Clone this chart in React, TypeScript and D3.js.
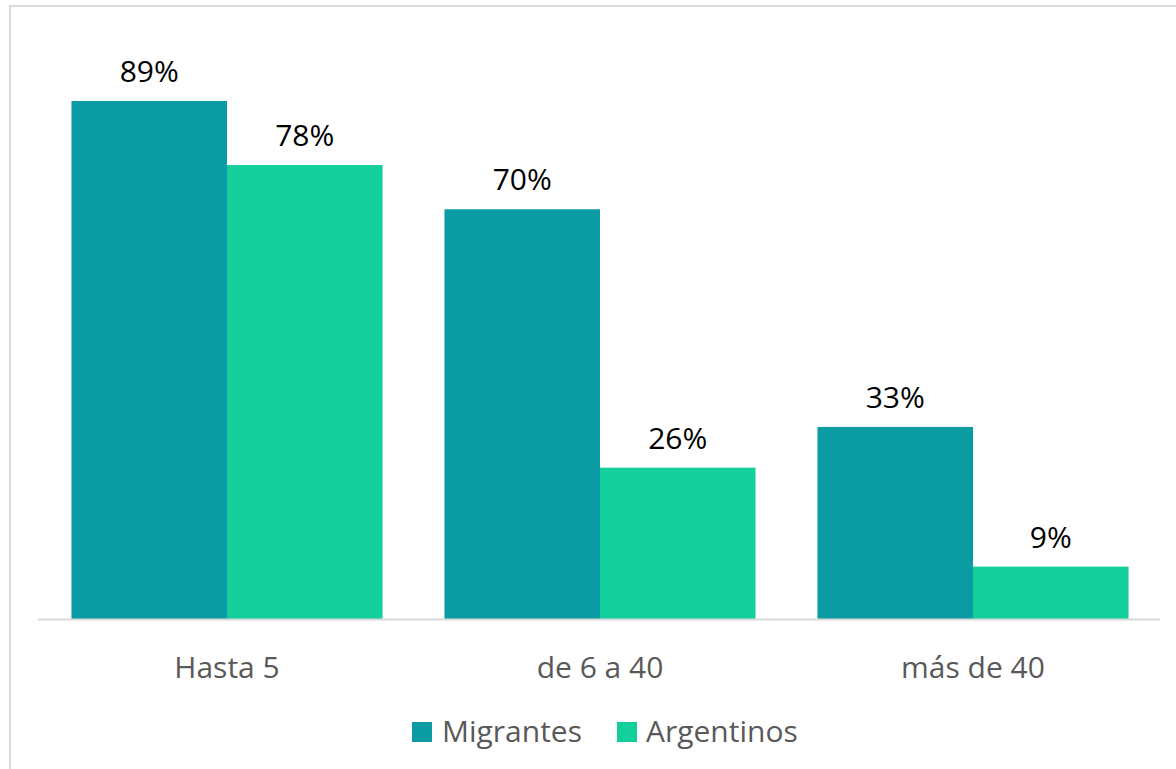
import React from "react";
import * as d3 from "d3";

const categories = ["Hasta 5", "de 6 a 40", "más de 40"];
const seriesNames = ["Migrantes", "Argentinos"];
const migrantes = [89, 70.4, 33];
const argentinos = [78, 26, 9];
const seriesColors = ["#0A9BA3", "#12CF9B"];

const W = 1176;
const H = 769;

export default function App() {
  const x = d3.scaleBand<string>().domain(categories).range([40.5, 1159.5]).paddingInner(0.166).paddingOuter(0.083);
  const x1 = d3.scaleBand<string>().domain(seriesNames).range([0, x.bandwidth()]);
  const y = d3.scaleLinear().domain([0, 100]).range([619, 37]);
  const values = [migrantes, argentinos];
  const font = "'Open Sans', 'Noto Sans', sans-serif";

  const legendItems = [
    { name: seriesNames[0], color: seriesColors[0], sx: 412, tx: 442 },
    { name: seriesNames[1], color: seriesColors[1], sx: 617, tx: 646 },
  ];

  return (
    <svg width={W} height={H} style={{ position: "absolute", left: 0, top: 0, background: "#fff" }} fontFamily={font}>
      <rect x={10} y={6} width={W + 20} height={H + 20} fill="#fff" stroke="#d9d9d9" strokeWidth={2} />
      {categories.map((c, ci) =>
        seriesNames.map((s, si) => {
          const v = values[si][ci];
          const bx = (x(c) as number) + (x1(s) as number);
          return (
            <g key={c + s}>
              <rect x={bx} y={y(v)} width={x1.bandwidth()} height={y(0) - y(v)} fill={seriesColors[si]} />
              <text x={bx + x1.bandwidth() / 2} y={y(v) - 19} textAnchor="middle" fontSize={30} fill="#000">
                {Math.round(v)}%
              </text>
            </g>
          );
        })
      )}
      <line x1={38} x2={1160} y1={619.5} y2={619.5} stroke="#d9d9d9" strokeWidth={2} />
      {categories.map((c) => (
        <text key={c} x={(x(c) as number) + x.bandwidth() / 2} y={678} textAnchor="middle" fontSize={30} fill="#595959">
          {c}
        </text>
      ))}
      {legendItems.map((it) => (
        <g key={it.name}>
          <rect x={it.sx} y={722} width={20} height={20} fill={it.color} />
          <text x={it.tx} y={742} fontSize={30} fill="#595959">
            {it.name}
          </text>
        </g>
      ))}
    </svg>
  );
}
